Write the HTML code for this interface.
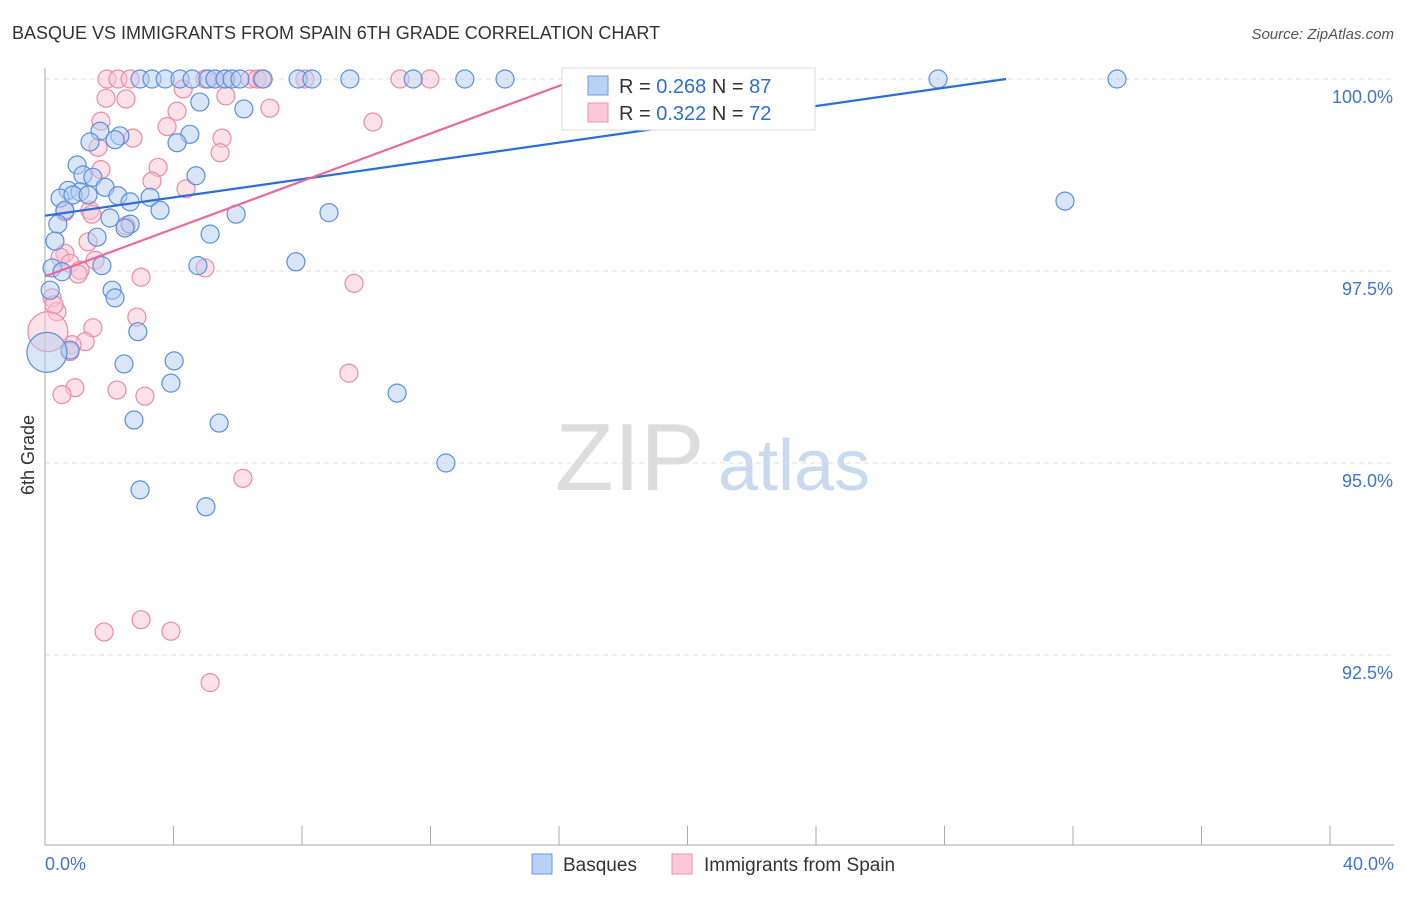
<!DOCTYPE html>
<html><head><meta charset="utf-8"><style>
body{margin:0;background:#fff;font-family:"Liberation Sans",sans-serif;}
svg text{font-family:"Liberation Sans",sans-serif;}
</style></head><body>
<svg id="c" width="1406" height="892">
<text x="12" y="39" font-size="18" fill="#333">BASQUE VS IMMIGRANTS FROM SPAIN 6TH GRADE CORRELATION CHART</text>
<text x="1394" y="39" font-size="15" fill="#555" font-style="italic" text-anchor="end">Source: ZipAtlas.com</text>
<text x="34" y="455" font-size="18" fill="#333" transform="rotate(-90 34 455)" text-anchor="middle">6th Grade</text>
<text x="555" y="490" font-size="96" fill="#ddd" font-family="Liberation Serif">ZIP</text>
<text x="718" y="490" font-size="72" fill="#c9d9f0">atlas</text>
<g id="grid"></g><g id="marks"></g><g id="lines"></g>
<g>
<rect x="562" y="68" width="253" height="62" fill="#fff" stroke="#ddd"/>
<rect x="588" y="76" width="20" height="19" fill="#b9d1f3" stroke="#6a9be0"/>
<rect x="588" y="103" width="20" height="19" fill="#fbc9d8" stroke="#ee94b0"/>
<text x="619" y="93" font-size="20" fill="#333">R = <tspan fill="#2d6fd4">0.268</tspan>   N = <tspan fill="#2d6fd4">87</tspan></text>
<text x="619" y="120" font-size="20" fill="#333">R = <tspan fill="#2d6fd4">0.322</tspan>   N = <tspan fill="#2d6fd4">72</tspan></text>
</g>
<g>
<rect x="532" y="854" width="20" height="20" fill="#b9d1f3" stroke="#6a9be0"/>
<text x="563" y="871" font-size="19" fill="#333">Basques</text>
<rect x="672" y="854" width="20" height="20" fill="#fbc9d8" stroke="#ee94b0"/>
<text x="704" y="871" font-size="19" fill="#333">Immigrants from Spain</text>
</g>
</svg>
<script>
const xTicks=[0,4,8,12,16,20,24,28,32,36,40];
const yTicks=[100,97.5,95,92.5];
const yTickLabels=["100.0%","97.5%","95.0%","92.5%"];
const blueX=[2.96,3.33,3.74,4.2,4.58,5.07,5.29,5.6,5.82,6.07,6.79,7.88,8.31,9.49,11.46,13.07,14.32,27.8,33.37,4.82,6.19,1.71,2.33,4.51,4.11,1.40,2.18,1.00,4.70,1.18,1.49,0.72,1.09,1.87,0.47,0.87,1.34,2.27,2.65,3.27,0.62,3.58,5.95,8.84,31.75,0.40,2.02,2.65,2.49,5.14,1.62,0.31,7.81,0.22,0.53,1.77,4.76,0.16,2.09,2.18,2.89,0.78,2.46,4.02,3.92,10.96,2.77,5.42,12.48,2.96,5.01,0.06];
const blueY=[100,100,100,100,100,100,100,100,100,100,100,100,100,100,100,100,100,100,100,99.70,99.61,99.32,99.26,99.28,99.17,99.18,99.21,98.88,98.74,98.75,98.72,98.55,98.53,98.59,98.45,98.49,98.49,98.48,98.40,98.46,98.29,98.29,98.24,98.26,98.41,98.11,98.19,98.11,98.06,97.98,97.94,97.89,97.62,97.54,97.49,97.57,97.57,97.25,97.25,97.15,96.71,96.47,96.29,96.33,96.04,95.91,95.56,95.52,95.00,94.65,94.43,96.44];
const blueSize=blueX.map((v,i)=>i===blueX.length-1?3:1);
const pinkX=[1.93,2.27,2.65,4.98,5.29,5.63,6.38,6.6,6.75,8.09,11.05,11.98,16.56,20.86,1.90,2.52,4.30,5.63,4.11,7.00,1.74,3.80,10.21,1.65,2.74,5.51,5.45,3.52,1.74,3.33,4.39,1.40,0.62,1.46,2.52,1.34,0.62,0.47,1.56,0.78,1.09,1.03,2.99,4.98,9.62,0.22,0.37,2.86,1.49,1.25,0.84,0.78,9.46,0.93,0.53,2.24,3.11,6.16,1.84,2.99,3.92,5.14,0.28,0.09];
const pinkY=[100,100,100,100,100,100,100,100,100,100,100,100,100,100,99.75,99.74,99.87,99.78,99.58,99.62,99.45,99.38,99.44,99.11,99.23,99.23,99.04,98.85,98.82,98.67,98.57,98.29,98.27,98.24,98.09,97.88,97.73,97.68,97.64,97.60,97.51,97.46,97.42,97.54,97.34,97.15,96.97,96.90,96.76,96.58,96.54,96.45,96.17,95.98,95.89,95.95,95.87,94.80,92.80,92.96,92.81,92.14,97.06,96.71];
const pinkSize=pinkX.map((v,i)=>i===pinkX.length-1?3:1);
const blueTrend=[98.22,0.0595]; // intercept, slope
const pinkTrend=[97.43,0.155];
const X=v=>45+v*32.125, Y=v=>79+(100-v)*76.8;
const NS="http://www.w3.org/2000/svg";
function mk(t,a,p){const e=document.createElementNS(NS,t);for(const k in a)e.setAttribute(k,a[k]);p.appendChild(e);return e;}
const grid=document.getElementById('grid'),marks=document.getElementById('marks'),lines=document.getElementById('lines');
yTicks.forEach((t,i)=>{
 const l=mk('line',{x1:45,x2:1394,y1:Y(t),y2:Y(t),stroke:'#ddd','stroke-dasharray':'5,4'},grid);
 
 
 const tx=mk('text',{x:1393,y:Y(t)+24,'font-size':18,fill:'#3f74d1','text-anchor':'end'},grid);tx.textContent=yTickLabels[i];
 
 
});
const ax=mk('line',{x1:45,x2:45,y1:68,y2:845,stroke:'#aaa'},grid);


const bx=mk('line',{x1:45,x2:1394,y1:845,y2:845,stroke:'#aaa'},grid);


xTicks.forEach(t=>{const l=mk('line',{x1:X(t),x2:X(t),y1:826,y2:845,stroke:'#aaa'},grid);
 
 });
[[0,'0.0%','start',45],[40,'40.0%','end',1394]].forEach(d=>{const t=mk('text',{x:d[3],y:870,'font-size':18,fill:'#3f74d1','text-anchor':d[2]},grid);t.textContent=d[1];
 
 });
function pts(xs,ys,sz,fill,stroke,name){xs.forEach((x,i)=>{const c=mk('circle',{cx:X(x),cy:Y(ys[i]),r:sz[i]>1?20:9,fill:fill,'fill-opacity':0.5,stroke:stroke,'stroke-width':1.2},marks);
 
 });}
pts(pinkX,pinkY,pinkSize,'#fbc3d4','#ea8aa9','point-spain');
pts(blueX,blueY,blueSize,'#b3cdf2','#5a8fdc','point-basques');
function trend(tr,color,name){const x2=Math.min(40,(100-tr[0])/tr[1]);const l=mk('line',{x1:X(0),y1:Y(tr[0]),x2:X(x2),y2:Y(tr[0]+tr[1]*x2),stroke:color,'stroke-width':2.2},lines);
 
 }
trend(blueTrend,'#2a6fd6','trendline-basques');
trend(pinkTrend,'#e8689a','trendline-spain');
</script>
</body></html>
